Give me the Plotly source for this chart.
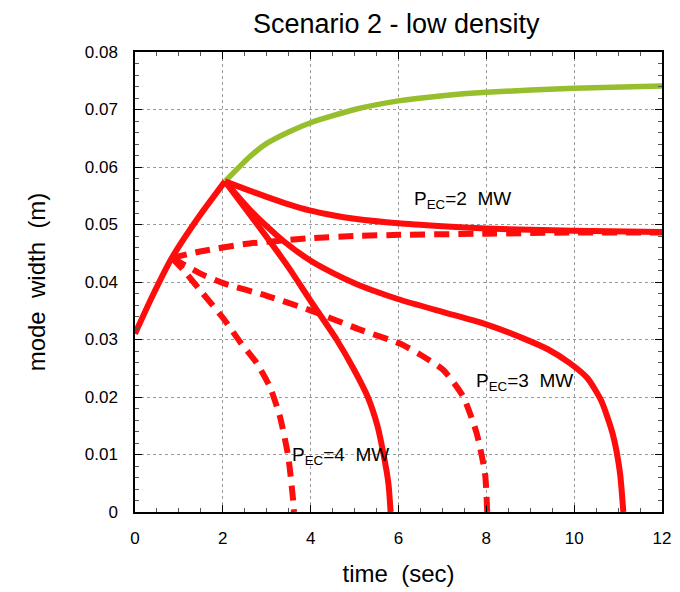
import plotly.graph_objects as go

# ---- data ----
rise_t = [0.0, 0.4, 0.84, 1.45, 2.05]
rise_w = [0.0310, 0.0376, 0.0442, 0.0513, 0.0575]

green_t = [2.05, 2.6, 3.0, 3.5, 4.0, 5.0, 6.0, 7.0, 8.0, 10.0, 12.0]
green_w = [0.0575, 0.0617, 0.0641, 0.0661, 0.0677, 0.0700, 0.0715, 0.0724, 0.0730, 0.0737, 0.0741]

p2_solid_t = [2.05, 2.5, 3.0, 3.5, 4.0, 4.5, 5.0, 6.0, 7.0, 8.0, 10.0, 12.0]
p2_solid_w = [0.0575, 0.0562, 0.0548, 0.0535, 0.0524, 0.0516, 0.0510, 0.0502, 0.0497, 0.0493, 0.0489, 0.0487]

p3_solid_t = [2.05, 2.6, 3.0, 3.4, 4.0, 4.5, 5.0, 5.5, 6.0, 7.0, 7.93, 8.84, 9.4, 9.9, 10.3, 10.62, 10.88, 11.04, 11.12]
p3_solid_w = [0.0575, 0.0527, 0.0497, 0.0470, 0.0437, 0.0416, 0.0398, 0.0383, 0.0370, 0.0348, 0.0328, 0.0302, 0.0283, 0.0259, 0.0233, 0.0193, 0.0135, 0.0070, 0.0]

p4_solid_t = [2.05, 3.0, 3.5, 4.0, 4.59, 4.97, 5.3, 5.52, 5.66, 5.77, 5.82]
p4_solid_w = [0.0575, 0.0478, 0.0425, 0.0367, 0.0300, 0.0250, 0.0200, 0.0150, 0.0100, 0.0050, 0.0]

p2_dash_t = [0.84, 1.48, 2.5, 3.98, 5.0, 6.03, 8.0, 10.0, 12.0]
p2_dash_w = [0.0442, 0.0453, 0.0466, 0.0476, 0.0480, 0.0482, 0.0484, 0.0486, 0.0486]

p3_dash_t = [0.84, 1.48, 2.01, 3.0, 3.98, 5.2, 6.03, 6.49, 7.02, 7.47, 7.78, 7.97, 8.02]
p3_dash_w = [0.0442, 0.0415, 0.0398, 0.0376, 0.0351, 0.0315, 0.0293, 0.0274, 0.0247, 0.0201, 0.0137, 0.0067, 0.0]

p4_dash_t = [0.84, 1.10, 1.48, 2.01, 2.4, 2.77, 3.07, 3.30, 3.49, 3.60, 3.62]
p4_dash_w = [0.0442, 0.0421, 0.0386, 0.0337, 0.0295, 0.0259, 0.0218, 0.0166, 0.0096, 0.0021, 0.0]

x_ticks = [0, 2, 4, 6, 8, 10, 12]
y_ticks = [0, 0.01, 0.02, 0.03, 0.04, 0.05, 0.06, 0.07, 0.08]
y_ticktext = ["0", "0.01", "0.02", "0.03", "0.04", "0.05", "0.06", "0.07", "0.08"]

labels = ["P<sub>EC</sub>=2  MW", "P<sub>EC</sub>=3  MW", "P<sub>EC</sub>=4  MW"]
label_t = [6.3, 7.72, 3.52]
label_w = [0.0543, 0.0226, 0.0098]

RED = "#ff0d0d"
GREEN = "#97be2c"
DASH = "15px,9px"

fig = go.Figure()

def add(t, w, color, dash=None, width=6):
    fig.add_trace(go.Scatter(
        x=t, y=w, mode="lines",
        line=dict(color=color, width=width, shape="spline", smoothing=0.6,
                  dash=dash if dash else "solid"),
        showlegend=False, hoverinfo="skip"))

add(green_t, green_w, GREEN, width=5.5)
add(p2_solid_t, p2_solid_w, RED)
add(p3_solid_t, p3_solid_w, RED)
add(p4_solid_t, p4_solid_w, RED)
add(p2_dash_t, p2_dash_w, RED, DASH)
add(p3_dash_t, p3_dash_w, RED, DASH)
add(p4_dash_t, p4_dash_w, RED, DASH)
add(rise_t, rise_w, RED)

for txt, tx, wy in zip(labels, label_t, label_w):
    fig.add_annotation(x=tx, y=wy, text=txt, showarrow=False, xanchor="left",
                       yanchor="middle", font=dict(size=19, color="black"))

axis_common = dict(
    showline=True, linecolor="black", linewidth=1.5, mirror="allticks",
    ticks="inside", ticklen=7, tickcolor="black", tickwidth=1.2,
    showgrid=True, gridcolor="#9a9a9a", griddash="dot", gridwidth=1,
    zeroline=False, tickfont=dict(size=17, color="black"),
)

fig.update_xaxes(
    range=[0, 12], tickvals=x_ticks, ticktext=[str(v) for v in x_ticks],
    ticklabelstandoff=10,
    title=dict(text="time  (sec)", font=dict(size=24, color="black"), standoff=18),
    minor=dict(ticks="inside", ticklen=4, dtick=0.5, tickcolor="#555", showgrid=False),
    **axis_common)
fig.update_yaxes(
    range=[0, 0.08], tickvals=y_ticks, ticktext=y_ticktext,
    ticklabelstandoff=12,
    title=dict(text="mode  width  (m)", font=dict(size=24, color="black"), standoff=32),
    minor=dict(ticks="inside", ticklen=4, dtick=0.002, tickcolor="#555", showgrid=False),
    **axis_common)

fig.update_layout(
    width=680, height=592,
    margin=dict(l=127, r=26, t=44, b=88),
    paper_bgcolor="white", plot_bgcolor="white",
    font=dict(family="Liberation Sans, Arial, sans-serif", color="black"),
    title=dict(text="Scenario 2 - low density", x=0.571, xanchor="center",
               y=0.974, yanchor="middle", font=dict(size=27, color="black")),
)

fig.write_html("out.html")
